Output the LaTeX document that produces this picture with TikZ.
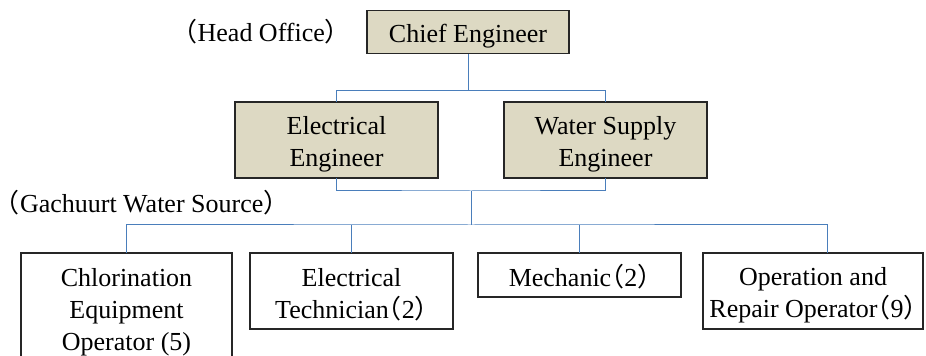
\documentclass[tikz,border=0pt]{standalone}
\usepackage{fontspec}
\setmainfont{Liberation Serif}
\newfontfamily\cjkfont[RawFeature=+halt]{Noto Sans CJK JP}
\usepackage{xcolor}
\usepackage{tikz}
\usetikzlibrary{positioning,calc}
\definecolor{orgtan}{HTML}{DDD9C3}
\definecolor{orgblue}{HTML}{4A7EBB}
\newcommand{\fwopen}{{\cjkfont （}}
\newcommand{\fwclose}{{\cjkfont ）}}
\newcommand{\boxstrut}{\rule{0pt}{13pt}}
\tikzset{
  orgbox/.style={draw=black!85, line width=0.6pt, fill=white, align=center, inner sep=3pt, outer sep=0pt},
  orgtanbox/.style={orgbox, fill=orgtan},
  orgline/.style={draw=orgblue, line width=0.5pt}
}
\begin{document}
\begin{tikzpicture}[font=\fontsize{13pt}{16pt}\selectfont]
  \useasboundingbox (0,0) rectangle (463pt,-178pt);

  \node[orgtanbox, minimum width=101pt, minimum height=21pt] (chief) at (234pt,-16pt) {\boxstrut Chief Engineer};
  \node[left=11pt of chief] (office) {\fwopen Head Office\fwclose};

  \node[orgtanbox, minimum width=101.5pt, minimum height=38pt] (elec) at (168.25pt,-70pt) {\boxstrut Electrical\\Engineer};
  \node[orgtanbox, right=33pt of elec, minimum width=101.5pt, minimum height=38pt] (water) {\boxstrut Water Supply\\Engineer};

  \node[anchor=west, inner sep=0pt] (source) at (3.3pt,-101.5pt) {\fwopen Gachuurt Water Source\fwclose};

  \node[orgbox, minimum width=105.5pt, minimum height=55.5pt] (chlor) at (63.25pt,-154.25pt) {\boxstrut Chlorination\\Equipment\\Operator (5)};
  \node[orgbox, right=9pt of chlor.north east, anchor=north west, minimum width=101.5pt, minimum height=38pt] (tech) {\boxstrut Electrical\\Technician\fwopen 2\fwclose};
  \node[orgbox, right=12.5pt of tech.north east, anchor=north west, minimum width=101.5pt, minimum height=22pt] (mech) {\boxstrut Mechanic\fwopen 2\fwclose};
  \node[orgbox, right=11pt of mech.north east, anchor=north west, inner xsep=0pt, minimum width=110pt, minimum height=38pt] (oper) {\boxstrut Operation and\\Repair Operator\fwopen 9\fwclose};

  % bus lines
  \coordinate (bustop) at ($(chief.south)+(0,-18.5pt)$);
  \coordinate (busmid) at ($(elec.south)!0.5!(water.south)+(0,-6.5pt)$);
  \coordinate (buslow) at ($(busmid)+(0,-17pt)$);
  \coordinate (operin) at ($(oper.north)+(7pt,0)$);

  \draw[orgline] (chief.south) -- (bustop);
  \draw[orgline] (elec.north) |- (bustop) -| (water.north);
  \draw[orgline] (elec.south) |- (busmid) -| (water.south);
  \draw[orgline] (busmid) -- (buslow);
  \draw[orgline] (chlor.north) |- (buslow) -| (operin);
  \draw[orgline] (tech.north) -- (tech.north |- buslow);
  \draw[orgline] (mech.north) -- (mech.north |- buslow);
\end{tikzpicture}
\end{document}
